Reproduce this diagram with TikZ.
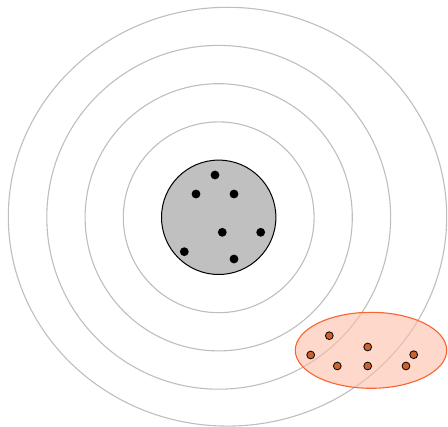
\documentclass[tikz,border=0pt]{standalone}
\definecolor{ringgray}{RGB}{190,190,190}
\definecolor{coregray}{RGB}{192,192,192}
\definecolor{clusterfill}{RGB}{252,190,168}
\definecolor{clusterline}{RGB}{250,100,50}
\definecolor{clusterdot}{RGB}{204,98,46}
\tikzset{
  ring/.style={draw=ringgray, line width=1.1pt},
  core/.style={draw=black, fill=coregray, line width=1pt},
  coredot/.style={fill=black},
  cluster/.style={draw=clusterline, fill=clusterfill, fill opacity=0.6, line width=1.1pt},
  clusterpt/.style={draw=black, fill=clusterdot, line width=0.8pt}
}
\begin{document}
\begin{tikzpicture}[x=1pt,y=-1pt]
  \useasboundingbox (0,0) rectangle (448,427);
  % concentric rings around the core
  \draw[ring] (218.7,217.3) circle (95.4);
  \draw[ring] (218.7,217.3) circle (133.6);
  \draw[ring] (218.7,217.3) circle (171.9);
  \draw[ring] (227.5,216.7) ellipse [x radius=219.2, y radius=209.4];
  % core disc and its points
  \draw[core] (218.7,217.3) circle (57.2);
  \foreach \p in {(215,175),(196,194),(234,194),(222.3,232.3),(260.7,232.3),(184.3,251.7),(234,259)}
    \fill[coredot] \p circle (4.4);
  % cluster region and its points
  \draw[cluster] (371,350.3) ellipse [x radius=75.7, y radius=38];
  \foreach \p in {(329.3,335.7),(310.7,355),(367.7,347),(413.7,354.7),(337.3,366),(367.7,366),(406,366)}
    \draw[clusterpt] \p circle (3.9);
\end{tikzpicture}
\end{document}
